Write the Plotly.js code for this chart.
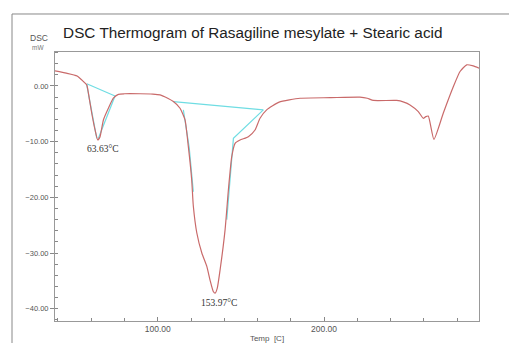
<!DOCTYPE html>
<html>
<head>
<meta charset="utf-8">
<script src="https://cdn.plot.ly/plotly-3.0.1.min.js"></script>
<style>html,body{margin:0;padding:0;background:#fff;}#chart{width:509px;height:343px;}</style>
</head>
<body>
<div id="chart"></div>
<script>
// DSC curve (temperature in C, heat flow in mW)
const temp = [38.2, 45, 51.5, 55.3, 57.3, 58.3, 60.3, 62.3, 63.9, 65.3, 67.3, 70.3, 73.3, 76.3, 80, 89.4, 97, 101.4, 106, 109.4, 113.4, 116.4, 118.4, 120.4, 121.4, 123.5, 126.5, 129.5, 131.4, 133.4, 134.5, 135.8, 137.5, 140.5, 142.5, 144.5, 146.5, 149.5, 154.5, 158.5, 161.5, 165.5, 173, 185.6, 203.6, 221.6, 226, 229.7, 243.7, 248, 251.7, 256.7, 259.7, 261.2, 262.7, 266.1, 271.7, 277.8, 281.8, 285.8, 289.7, 293.2];
const dsc = [2.7, 2.3, 1.8, 0.8, 0.2, -1.3, -4.9, -7.9, -9.7, -9.1, -6.1, -4.0, -2.2, -1.5, -1.4, -1.4, -1.45, -1.6, -2.2, -2.8, -4.0, -6.1, -10.9, -16.8, -21.6, -26.4, -30.0, -32.4, -34.8, -36.9, -37.2, -36.3, -33.0, -25.8, -18.6, -12.7, -10.3, -9.7, -9.1, -7.9, -5.8, -4.3, -2.9, -2.2, -2.1, -2.0, -2.2, -2.6, -2.6, -2.9, -3.4, -4.6, -5.8, -5.5, -5.4, -9.6, -4.9, -0.1, 2.6, 3.8, 3.6, 3.2];

// Peak analysis construction lines (baselines and tangents)
const fitTemp = [57.3, 74.3, null, 57.3, 58.3, 60.3, 62.3, 63.3, null, 64.3, 74.3, null, 109.4, 163.5, null, 115.4, 118.9, 121.4, null, 141.5, 145.5, 163.5];
const fitDsc  = [0.4, -1.8, null, 0.2, -1.3, -4.9, -7.9, -9.4, null, -9.4, -1.8, null, -2.8, -4.3, null, -4.3, -11.0, -19.0, null, -24.0, -9.4, -4.3];

// Peak labels
const peakLabels = ["63.63\u00b0C", "153.97\u00b0C"];
const peakLabelX = [66.8, 136.9];
const peakLabelY = [-11.3, -38.9];

const traces = [
  {x: fitTemp, y: fitDsc, mode: 'lines', line: {color: '#6fdde3', width: 1.2}, connectgaps: false, hoverinfo: 'skip'},
  {x: temp, y: dsc, mode: 'lines', line: {color: '#c96a6a', width: 1.2, shape: 'spline', smoothing: 0.5}}
];

const annotations = peakLabels.map((t, i) => ({
  x: peakLabelX[i], y: peakLabelY[i], xref: 'x', yref: 'y', text: t, showarrow: false,
  font: {family: 'Liberation Serif, Times New Roman, serif', size: 9.5, color: '#333'}
}));
annotations.push({xref: 'paper', yref: 'paper', x: -0.038, y: 1.052, xanchor: 'center', yanchor: 'middle', text: 'DSC', showarrow: false, font: {family: 'Liberation Sans, Arial, sans-serif', size: 8.5, color: '#555'}});
annotations.push({xref: 'paper', yref: 'paper', x: -0.04, y: 1.018, xanchor: 'center', yanchor: 'middle', text: 'mW', showarrow: false, font: {family: 'Liberation Sans, Arial, sans-serif', size: 6.5, color: '#777'}});

const layout = {
  width: 509, height: 343,
  margin: {l: 55, r: 30, t: 52, b: 22},
  paper_bgcolor: '#fff', plot_bgcolor: '#fff',
  showlegend: false,
  title: {text: 'DSC Thermogram of Rasagiline mesylate + Stearic acid', xref: 'container', yref: 'container', x: 0.124, xanchor: 'left', y: 0.904, yanchor: 'middle', font: {family: 'Liberation Sans, Arial, sans-serif', size: 15.3, color: '#222'}},
  xaxis: {
    range: [38.2, 293.2], showgrid: false, zeroline: false,
    showline: true, mirror: true, linecolor: '#999', linewidth: 1,
    ticks: 'inside', ticklen: 4, tickcolor: '#888', dtick: 100, tick0: 0, tickformat: '.2f',
    minor: {dtick: 20, ticks: 'inside', ticklen: 3, tickcolor: '#888'},
    tickfont: {family: 'Liberation Sans, Arial, sans-serif', size: 8.5, color: '#555'},
    title: {text: 'Temp  [C]', standoff: 2, font: {family: 'Liberation Sans, Arial, sans-serif', size: 8, color: '#555'}}
  },
  yaxis: {
    range: [-42.2, 6.1], showgrid: false, zeroline: false,
    showline: true, mirror: true, linecolor: '#999', linewidth: 1,
    ticks: 'outside', ticklen: 4, tickcolor: '#888', dtick: 10, tick0: 0, tickformat: '.2f',
    minor: {dtick: 2, ticks: 'inside', ticklen: 3, tickcolor: '#888'},
    tickfont: {family: 'Liberation Sans, Arial, sans-serif', size: 7.5, color: '#555'}
  },
  annotations: annotations,
  shapes: [
    {type: 'rect', xref: 'paper', yref: 'paper', x0: -0.1014, x1: 1.08, y0: -0.1, y1: 1.1413, line: {color: '#888', width: 1}, layer: 'below'}
  ]
};

Plotly.newPlot('chart', traces, layout, {displayModeBar: false, staticPlot: true});
</script>
</body>
</html>
